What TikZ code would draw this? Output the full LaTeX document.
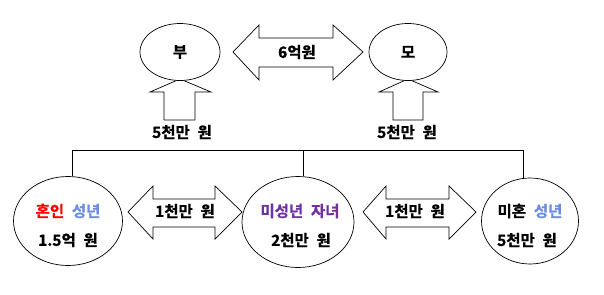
\documentclass[tikz,border=0pt]{standalone}
\usepackage{fontspec}
\IfFontExistsTF{Noto Sans CJK KR Bold}
  {\newfontfamily\kr{Noto Sans CJK KR Bold}[WordSpace=2.2,FakeBold=0.8]}
  {\newfontfamily\kr{Noto Sans CJK KR}[FakeBold=2.5,WordSpace=2.2]}
\usetikzlibrary{shapes.geometric}
\definecolor{krblue}{HTML}{6C8CE0}
\definecolor{krpurple}{HTML}{7030A0}
\tikzset{
  ell/.style={draw=black, line width=0.7pt, ellipse, fill=white, inner sep=0pt},
  arr/.style={draw=black, line width=0.7pt, fill=white, line join=miter},
  lbl/.style={font=\kr\fontsize{15.5}{17}\selectfont, inner sep=0pt, anchor=center},
  bar/.style={draw=black, line width=0.8pt}
}
\begin{document}
\begin{tikzpicture}[x=1pt,y=-1pt]
\useasboundingbox[fill=white] (0,0) rectangle (604,294);
% up arrows
\draw[arr] (180,79) -- (211,92) -- (195,92) -- (195,120) -- (164,120) -- (164,92) -- (150,92) -- cycle;
\draw[arr] (408,79) -- (438,92) -- (423,92) -- (423,120) -- (393,120) -- (393,92) -- (379,92) -- cycle;
% top ellipses
\node[ell, minimum width=80pt, minimum height=57pt] (fa) at (180,52) {};
\node[ell, minimum width=78pt, minimum height=57pt] (mo) at (408,52) {};
\node[lbl] (tfa) at (fa) {부};
\node[lbl] (tmo) at (mo) {모};
% top double arrow
\draw[arr] (233,52) -- (259,25) -- (259,38) -- (333,38) -- (333,25) -- (363,52) -- (333,80) -- (333,67) -- (259,67) -- (259,80) -- cycle;
\node[lbl] (t6) at (297,52) {6억원};
\node[lbl] (tfa5) at (182,132) {5천만 원};
\node[lbl] (tmo5) at (407,132) {5천만 원};
% bottom ellipses
\node[ell, minimum width=109pt, minimum height=89pt] (L) at (68,221) {};
\node[ell, minimum width=112pt, minimum height=91pt] (M) at (298,222) {};
\node[ell, minimum width=97pt, minimum height=86pt] (R) at (530,221) {};
% bar
\coordinate (bl) at (72,150);
\coordinate (bm) at (303,150);
\coordinate (br) at (523,150);
\draw[bar] (bl |- L.north) -- (bl) -- (br) -- (br |- R.north);
\draw[bar] (bm) -- (bm |- M.north);
% bottom double arrows
\draw[arr] (128,212) -- (153,186) -- (153,199) -- (215,199) -- (215,186) -- (242,212) -- (215,239) -- (215,227) -- (153,227) -- (153,239) -- cycle;
\draw[arr] (363,212) -- (386,186) -- (386,199) -- (449,199) -- (449,186) -- (476,212) -- (449,239) -- (449,227) -- (386,227) -- (386,239) -- cycle;
\node[lbl] (a1) at (185,211) {1천만 원};
\node[lbl] (a2) at (415,211) {1천만 원};
% ellipse texts
\node[lbl] (l1) at (68,211) {\textcolor{red}{혼인} \textcolor{krblue}{성년}};
\node[lbl] (l2) at (68,240) {1.5억 원};
\node[lbl] (m1) at (300,211) {\textcolor{krpurple}{미성년 자녀}};
\node[lbl] (m2) at (301,240) {2천만 원};
\node[lbl] (r1) at (530,211) {미혼 \textcolor{krblue}{성년}};
\node[lbl] (r2) at (527,240) {5천만 원};
\end{tikzpicture}
\end{document}
